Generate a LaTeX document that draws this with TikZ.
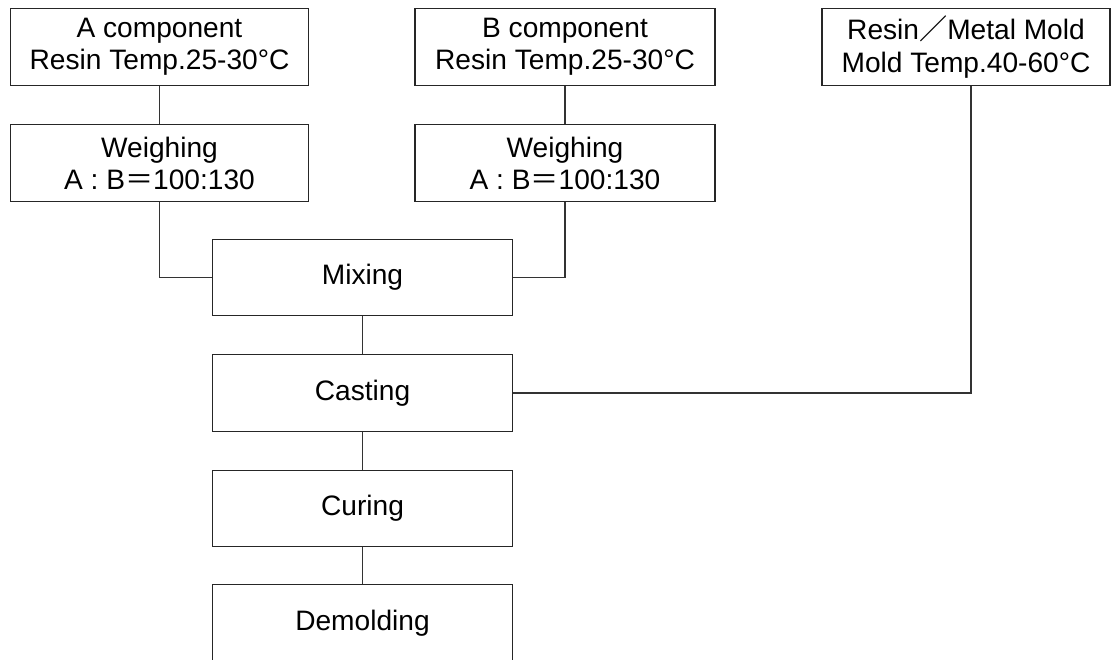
\documentclass[tikz,border=0pt]{standalone}
\usepackage{fontspec}
\setmainfont{Liberation Sans}
\newfontfamily\cjk{Noto Sans CJK JP}
\usepackage{tikz}
\usetikzlibrary{positioning,calc}
\tikzset{
  stage/.style={draw=black!85,line width=.8pt,fill=white,inner sep=0pt,
                align=center,minimum height=1.92cm,
                font=\fontsize{20}{22.8}\selectfont},
  feed/.style={stage,minimum width=7.45cm},
  proc/.style={stage,minimum width=7.48cm},
  mold/.style={stage,minimum width=7.2cm},
  link/.style={draw=black!80,line width=.8pt},
}

\begin{document}
\begin{tikzpicture}[x=0.025cm,y=-0.025cm]
  \useasboundingbox (0,0) rectangle (1112,659);
  % raw materials
  \node[feed] (acomp) at (159.5,47) {A component\\Resin Temp.25-30°C};
  \node[feed] (aweigh) at (159.5,163) {Weighing\\A : B{\cjk ＝}100:130};
  \node[feed,minimum width=7.5cm] (bcomp) at (565,47) {B component\\Resin Temp.25-30°C};
  \node[feed,minimum width=7.5cm] (bweigh) at (565,163) {Weighing\\A : B{\cjk ＝}100:130};
  \node[mold] (mold) at (966,47) {Resin{\cjk ／}Metal Mold\\Mold Temp.40-60°C};
  \coordinate (moldin) at ($(mold.south)+(5,0)$);
  % process line
  \node[proc] (mix) at (362.5,277.5) {Mixing};
  \node[proc] (cast) at (362.5,393) {Casting};
  \node[proc] (cure) at (362.5,508.5) {Curing};
  \node[proc] (demold) at (362.5,623) {Demolding};
  \draw[link] (acomp) -- (aweigh);
  \draw[link] (bcomp) -- (bweigh);
  \draw[link] (aweigh.south) |- (mix.west);
  \draw[link] (bweigh.south) |- (mix.east);
  \draw[link] (mix) -- (cast);
  \draw[link] (cast) -- (cure);
  \draw[link] (cure) -- (demold);
  \draw[link] (cast.east) -| (moldin);
\end{tikzpicture}
\end{document}
